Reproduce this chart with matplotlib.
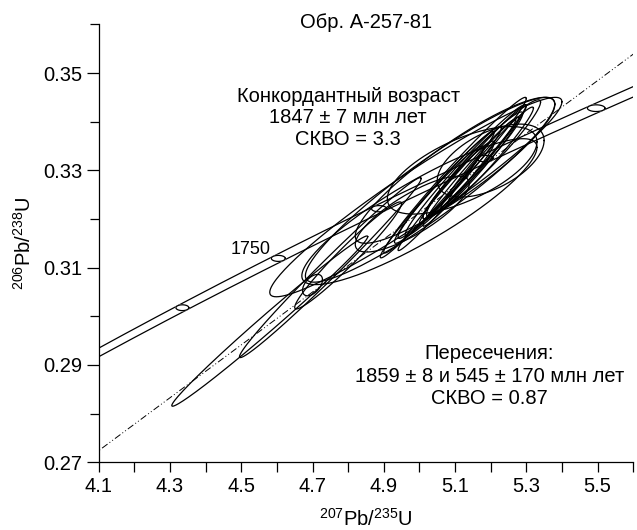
import numpy as np
import matplotlib
matplotlib.use("Agg")
import matplotlib.pyplot as plt

plt.rcParams['font.family'] = ['Liberation Sans', 'DejaVu Sans']
plt.rcParams['mathtext.fontset'] = 'custom'
plt.rcParams['mathtext.rm'] = 'Liberation Sans'
plt.rcParams['mathtext.it'] = 'Liberation Sans:italic'

# decay constants (1/yr) and the errors used for the concordia band
L238 = 1.55125e-10
L235 = 9.8485e-10
L238_ERR = 2.7e-13
L235_ERR = 2.0e-12

marker_ages = [1700, 1750, 1800, 1850, 1900]   # Ma
labelled_age = 1750

# discordia intercepts, Ma
upper_age = 1859
lower_age = 545

# zircon analyses: 207Pb/235U, 206Pb/238U, ellipse half-widths, error correlation
pb207_u235 = [4.99, 5.03, 5.10, 5.20, 5.00, 4.58, 4.75, 4.70, 4.80,
              5.10, 5.13, 5.08, 5.15, 5.06, 5.18, 5.11, 4.98, 5.12,
              5.14, 5.17, 5.09, 5.20, 5.12, 5.05]
pb206_u238 = [0.3245, 0.3260, 0.3300, 0.3320, 0.3215, 0.2990, 0.3100, 0.3064, 0.3125,
              0.3290, 0.3300, 0.3270, 0.3310, 0.3255, 0.3325, 0.3280, 0.3210, 0.3300,
              0.3295, 0.3315, 0.3268, 0.3330, 0.3285, 0.3250]
err_x = [0.41, 0.35, 0.28, 0.15, 0.33, 0.275, 0.255, 0.028, 0.15,
         0.20, 0.17, 0.15, 0.14, 0.12, 0.16, 0.10, 0.16, 0.21,
         0.13, 0.11, 0.09, 0.12, 0.18, 0.16]
err_y = [0.0205, 0.0190, 0.0150, 0.0075, 0.0150, 0.0175, 0.0185, 0.0022, 0.0110,
         0.0160, 0.0135, 0.0120, 0.0110, 0.0095, 0.0120, 0.0080, 0.0078, 0.0090,
         0.0110, 0.0095, 0.0078, 0.0100, 0.0150, 0.0130]
rho = [0.955, 0.93, 0.90, 0.55, 0.88, 0.992, 0.99, 0.5, 0.97,
       0.985, 0.98, 0.975, 0.97, 0.97, 0.96, 0.96, 0.80, 0.65,
       0.985, 0.98, 0.98, 0.975, 0.99, 0.985]

x_ticks = [4.1, 4.3, 4.5, 4.7, 4.9, 5.1, 5.3, 5.5]
x_labels = ["4.1", "4.3", "4.5", "4.7", "4.9", "5.1", "5.3", "5.5"]
x_minor = [4.2, 4.4, 4.6, 4.8, 5.0, 5.2, 5.4, 5.6]
y_ticks = [0.27, 0.29, 0.31, 0.33, 0.35]
y_labels = ["0.27", "0.29", "0.31", "0.33", "0.35"]
y_minor = [0.28, 0.30, 0.32, 0.34, 0.36]


def concordia(t_ma):
    t = np.asarray(t_ma) * 1e6
    return np.exp(L235 * t) - 1, np.exp(L238 * t) - 1


def ellipse_xy(x0, y0, ex, ey, r, n=240):
    th = np.linspace(0, 2 * np.pi, n)
    return x0 + ex * np.cos(th), y0 + ey * (r * np.cos(th) + np.sqrt(1 - r * r) * np.sin(th))


fig = plt.figure(figsize=(6.37, 5.30), dpi=100)
ax = fig.add_axes([0.155, 0.128, 0.839, 0.826])

# concordia band: envelope of the decay-constant error ellipses
t = np.linspace(1600, 1960, 600)
cx, cy = concordia(t)
a = (cx + 1) * t * 1e6 * L235_ERR
b = (cy + 1) * t * 1e6 * L238_ERR
slope = (L238 * (cy + 1)) / (L235 * (cx + 1))
phi = np.arctan(-b / (a * slope))
ox, oy = a * np.cos(phi), b * np.sin(phi)
ax.plot(cx + ox, cy + oy, color='black', lw=0.9, zorder=2)
ax.plot(cx - ox, cy - oy, color='black', lw=0.9, zorder=2)

for age in marker_ages:
    mx, my = concordia(age)
    ma = (mx + 1) * age * 1e6 * L235_ERR
    mb = (my + 1) * age * 1e6 * L238_ERR
    ex, ey = ellipse_xy(mx, my, ma, mb, 0.0)
    ax.fill(ex, ey, color='white', zorder=2.2)
    ax.plot(ex, ey, color='black', lw=0.9, zorder=2.3)

lx, ly = concordia(labelled_age)
ax.text(lx - 0.022, ly + 0.0019, str(labelled_age), fontsize=13, ha='right', va='center')

# discordia through the two intercepts
ux, uy = concordia(upper_age)
lwx, lwy = concordia(lower_age)
dx = np.array([lwx, 6.0])
dy = uy + (dx - ux) * (uy - lwy) / (ux - lwx)
ax.plot(dx, dy, color='black', lw=0.7, linestyle=(0, (7, 2.5, 1, 2.5, 1, 2.5)), zorder=2.5)

# analysis ellipses
for i in range(len(pb207_u235)):
    ex, ey = ellipse_xy(pb207_u235[i], pb206_u238[i], err_x[i], err_y[i], rho[i])
    ax.plot(ex, ey, color='black', lw=0.9, zorder=3)

ax.set_xlim(4.1, 5.6)
ax.set_ylim(0.27, 0.36)
ax.spines['top'].set_visible(False)
ax.spines['right'].set_visible(False)
ax.spines['left'].set_linewidth(0.9)
ax.spines['bottom'].set_linewidth(0.9)

ax.set_xticks(x_ticks)
ax.set_xticklabels(x_labels)
ax.set_xticks(x_minor, minor=True)
ax.set_yticks(y_ticks)
ax.set_yticklabels(y_labels)
ax.set_yticks(y_minor, minor=True)
ax.tick_params(axis='x', which='both', direction='out', length=7, width=0.9, labelsize=14.5, pad=4)
ax.tick_params(axis='y', which='major', direction='out', length=9, width=0.9, labelsize=14.5, pad=3)
ax.tick_params(axis='y', which='minor', direction='out', length=6.7, width=0.9)

ax.set_xlabel('$^{207}$Pb/$^{235}$U', fontsize=14.5)
ax.set_ylabel('$^{206}$Pb/$^{238}$U', fontsize=14.5)
ax.xaxis.set_label_coords(0.5, -0.105)
ax.yaxis.set_label_coords(-0.12, 0.5)

ax.text(0.5, 1.005, 'Обр. А-257-81', transform=ax.transAxes, fontsize=14.5, ha='center', va='center')
ax.text(4.80, 0.3408, 'Конкордантный возраст\n1847 ± 7 млн лет\nСКВО = 3.3',
        fontsize=14.5, ha='center', va='center', multialignment='center', linespacing=1.15)
ax.text(5.197, 0.2877, 'Пересечения:\n1859 ± 8 и 545 ± 170 млн лет\nСКВО = 0.87',
        fontsize=14.5, ha='center', va='center', multialignment='center', linespacing=1.22)

fig.savefig('out.png', dpi=100)
